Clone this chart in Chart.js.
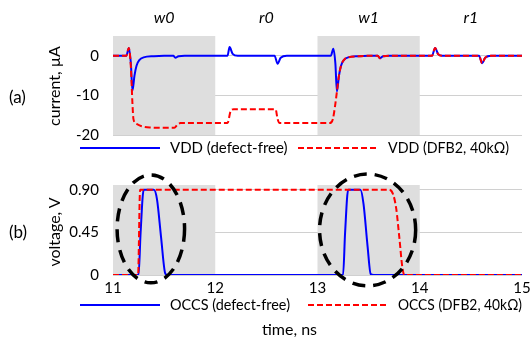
<!DOCTYPE html>
<html>
<head>
<meta charset="utf-8">
<script src="https://cdn.jsdelivr.net/npm/chart.js@4.4.1/dist/chart.umd.min.js"></script>
<style>
  body { margin: 0; background: #fff; }
  #wrap { position: relative; width: 530px; height: 345px; overflow: hidden; font-family: Lato, sans-serif; color: #000; }
  canvas { position: absolute; left: 0; }
  .lbl { position: absolute; font-size: 16px; white-space: nowrap; }
  .big { font-size: 17px; }
  .rot { transform: translate(-50%, -50%) rotate(-90deg); }
</style>
</head>
<body>
<div id="wrap">
  <canvas id="chartA" width="530" height="160" style="top:0"></canvas>
  <canvas id="chartB" width="530" height="185" style="top:160px"></canvas>
  <div class="lbl big" style="left:9px; top:86px;">(a)</div>
  <div class="lbl rot" style="left:53px; top:86px;">current, µA</div>
  <div class="lbl big" style="left:9px; top:221px;">(b)</div>
  <div class="lbl rot" style="left:53px; top:232px;">voltage, V</div>
  <div class="lbl" style="left:262px; top:319px;">time, ns</div>
</div>
<script>
// phases of the test sequence (shaded = write operations)
const phaseLabels = ['w0', 'r0', 'w1', 'r1'];
const phaseCenters = [11.5, 12.5, 13.5, 14.5];
const shadedFrom = [11, 13];
const shadedTo = [12, 14];

// (a) supply current, uA
const vddFreeT = [11, 11.13, 11.155, 11.175, 11.19, 11.21, 11.23, 11.26, 11.3, 11.4, 11.5, 11.59, 11.61, 11.64, 11.7,
  12.12, 12.14, 12.17, 12.22, 12.58, 12.61, 12.64, 12.7, 13.13, 13.155, 13.175, 13.19, 13.21, 13.23, 13.26, 13.3, 13.4, 13.5,
  13.59, 13.61, 13.64, 13.7, 14.12, 14.15, 14.18, 14.22, 14.58, 14.61, 14.64, 14.7, 15];
const vddFreeI = [0, 0, 2, -2, -8.8, -5, -2.5, -1, -0.4, -0.1, 0, 0, -0.5, -0.1, 0,
  0, 2.2, 0.5, 0, 0, -2, -0.5, 0, 0, 1.8, -2, -9, -5, -2.5, -1, -0.4, -0.1, 0,
  0, -0.6, -0.1, 0, 0, 2, 0.4, 0, 0, -1.9, -0.5, 0, 0];

const vddDefT = [11, 11.13, 11.155, 11.175, 11.19, 11.2, 11.23, 11.28, 11.36, 11.6, 11.63, 11.66,
  12.12, 12.15, 12.18, 12.59, 12.61, 12.63, 13.12, 13.15, 13.17, 13.19, 13.21, 13.23, 13.26, 13.3, 13.4, 13.5,
  13.59, 13.61, 13.64, 13.7, 14.12, 14.15, 14.18, 14.22, 14.58, 14.61, 14.64, 14.7, 15];
const vddDefI = [0, 0, 2, -3, -12, -16, -17.2, -17.8, -18.1, -18.2, -17.4, -17,
  -17, -14, -13.5, -13.5, -16, -17, -17, -16, -13, -9, -5, -2.5, -1, -0.4, -0.1, 0,
  0, -0.6, -0.1, 0, 0, 2, 0.4, 0, 0, -1.9, -0.5, 0, 0];

// (b) OCCS voltage, V
const occsFreeT = [11, 11.25, 11.27, 11.3, 11.4, 11.43, 11.47, 11.51, 11.53, 13, 13.25, 13.27, 13.3, 13.42, 13.45, 13.49, 13.52, 13.55, 15];
const occsFreeV = [0, 0, 0.45, 0.9, 0.9, 0.8, 0.4, 0.02, 0, 0, 0, 0.45, 0.9, 0.9, 0.75, 0.3, 0.01, 0, 0];

const occsDefT = [11, 11.245, 11.265, 13.7, 13.74, 13.77, 13.8, 13.83, 13.85, 15];
const occsDefV = [0, 0, 0.9, 0.9, 0.85, 0.7, 0.4, 0.08, 0, 0];

// dashed ellipses in (b): centre t, centre V, half-width ns, half-height V
const ellipseT = [11.37, 13.49];
const ellipseV = [0.487, 0.476];
const ellipseRx = [0.33, 0.47];
const ellipseRy = [0.57, 0.59];

const BLUE = '#0000ff';
const RED = '#ff0000';
const FONT = 'Lato';

function pts(ts, vs) {
  return ts.map((t, i) => ({ x: t, y: vs[i] }));
}

// gray boxes behind the write phases
const shadePlugin = {
  id: 'shade',
  beforeDatasetsDraw(chart) {
    const { ctx, chartArea, scales } = chart;
    ctx.save();
    ctx.fillStyle = '#dedede';
    for (let i = 0; i < shadedFrom.length; i++) {
      const x0 = scales.x.getPixelForValue(shadedFrom[i]);
      const x1 = scales.x.getPixelForValue(shadedTo[i]);
      ctx.fillRect(x0, chartArea.top, x1 - x0, chartArea.bottom - chartArea.top);
    }
    ctx.restore();
  }
};

// own legend row under each panel
const rowLegend = {
  id: 'rowLegend',
  afterDraw(chart, args, opts) {
    const ctx = chart.ctx;
    ctx.save();
    ctx.font = '15px ' + FONT;
    ctx.textBaseline = 'middle';
    ctx.fillStyle = '#000';
    chart.data.datasets.forEach((ds, i) => {
      const x = opts.xs[i];
      ctx.strokeStyle = ds.borderColor;
      ctx.lineWidth = 2;
      ctx.setLineDash(ds.borderDash || []);
      ctx.beginPath();
      ctx.moveTo(x, opts.y);
      ctx.lineTo(x + 80, opts.y);
      ctx.stroke();
      ctx.fillText(ds.label, x + 90, opts.y, opts.maxW[i]);
    });
    ctx.restore();
  }
};

const phasePlugin = {
  id: 'phases',
  afterDraw(chart) {
    const { ctx, scales } = chart;
    ctx.save();
    ctx.font = 'italic 16px ' + FONT;
    ctx.textAlign = 'center';
    ctx.textBaseline = 'middle';
    ctx.fillStyle = '#000';
    phaseLabels.forEach((p, i) => {
      ctx.fillText(p, scales.x.getPixelForValue(phaseCenters[i]), 18);
    });
    ctx.restore();
  }
};

const ellipsePlugin = {
  id: 'ellipses',
  afterDatasetsDraw(chart) {
    const { ctx, scales } = chart;
    ctx.save();
    ctx.strokeStyle = '#000';
    ctx.lineWidth = 3.5;
    ctx.setLineDash([13, 8]);
    for (let i = 0; i < ellipseT.length; i++) {
      const cx = scales.x.getPixelForValue(ellipseT[i]);
      const cy = scales.y.getPixelForValue(ellipseV[i]);
      const rx = scales.x.getPixelForValue(ellipseT[i] + ellipseRx[i]) - cx;
      const ry = cy - scales.y.getPixelForValue(ellipseV[i] + ellipseRy[i]);
      ctx.beginPath();
      ctx.ellipse(cx, cy, rx, ry, 0, 0, Math.PI * 2);
      ctx.stroke();
    }
    ctx.restore();
  }
};

// red (defect) trace is drawn over the blue one
function lineSet(label, data, color, dashed) {
  return {
    label: label,
    data: data,
    borderColor: color,
    borderWidth: 2,
    borderDash: dashed ? [6, 3] : [],
    order: dashed ? 0 : 1,
    pointRadius: 0,
    cubicInterpolationMode: 'monotone',
    fill: false,
  };
}

function yAxis(min, max, ticks, fmt) {
  return {
    type: 'linear',
    min: min,
    max: max,
    afterBuildTicks: (s) => { s.ticks = ticks.map(v => ({ value: v })); },
    afterFit: (s) => { s.width = 113; },
    grid: { color: '#d0d0d0', lineWidth: 1, drawTicks: false },
    border: { display: false },
    ticks: {
      padding: 14,
      color: '#000',
      font: { family: FONT, size: 15 },
      callback: fmt,
    },
  };
}

Chart.defaults.font.family = FONT;

new Chart(document.getElementById('chartA'), {
  type: 'line',
  data: {
    datasets: [
      lineSet('VDD (defect-free)', pts(vddFreeT, vddFreeI), BLUE, false),
      lineSet('VDD (DFB2, 40kΩ)', pts(vddDefT, vddDefI), RED, true),
    ]
  },
  options: {
    responsive: false,
    animation: false,
    layout: { padding: { top: 36, right: 8, bottom: 25, left: 0 } },
    scales: {
      x: { type: 'linear', min: 11, max: 15, display: false },
      y: yAxis(-20, 5, [-20, -10, 0], (v) => String(v)),
    },
    plugins: {
      legend: { display: false },
      tooltip: { enabled: false },
      rowLegend: { xs: [80, 298], y: 148, maxW: [118, 121] },
    }
  },
  plugins: [shadePlugin, rowLegend, phasePlugin],
});

new Chart(document.getElementById('chartB'), {
  type: 'line',
  data: {
    datasets: [
      lineSet('OCCS (defect-free)', pts(occsFreeT, occsFreeV), BLUE, false),
      lineSet('OCCS (DFB2, 40kΩ)', pts(occsDefT, occsDefV), RED, true),
    ]
  },
  options: {
    responsive: false,
    animation: false,
    layout: { padding: { top: 25, right: 8, bottom: 0, left: 0 } },
    scales: {
      x: {
        type: 'linear',
        min: 11,
        max: 15,
        afterFit: (s) => { s.height = 70; s.paddingLeft = 0; s.paddingRight = 0; },
        grid: { display: false, drawTicks: false },
        border: { display: false },
        ticks: {
          stepSize: 1,
          padding: 4,
          color: '#000',
          font: { family: FONT, size: 15 },
        },
      },
      y: yAxis(0, 0.95, [0, 0.45, 0.9], (v) => v === 0 ? '0' : v.toFixed(2)),
    },
    plugins: {
      legend: { display: false },
      tooltip: { enabled: false },
      rowLegend: { xs: [80, 308], y: 145, maxW: [120, 124] },
    }
  },
  plugins: [shadePlugin, rowLegend, ellipsePlugin],
});
</script>
</body>
</html>
